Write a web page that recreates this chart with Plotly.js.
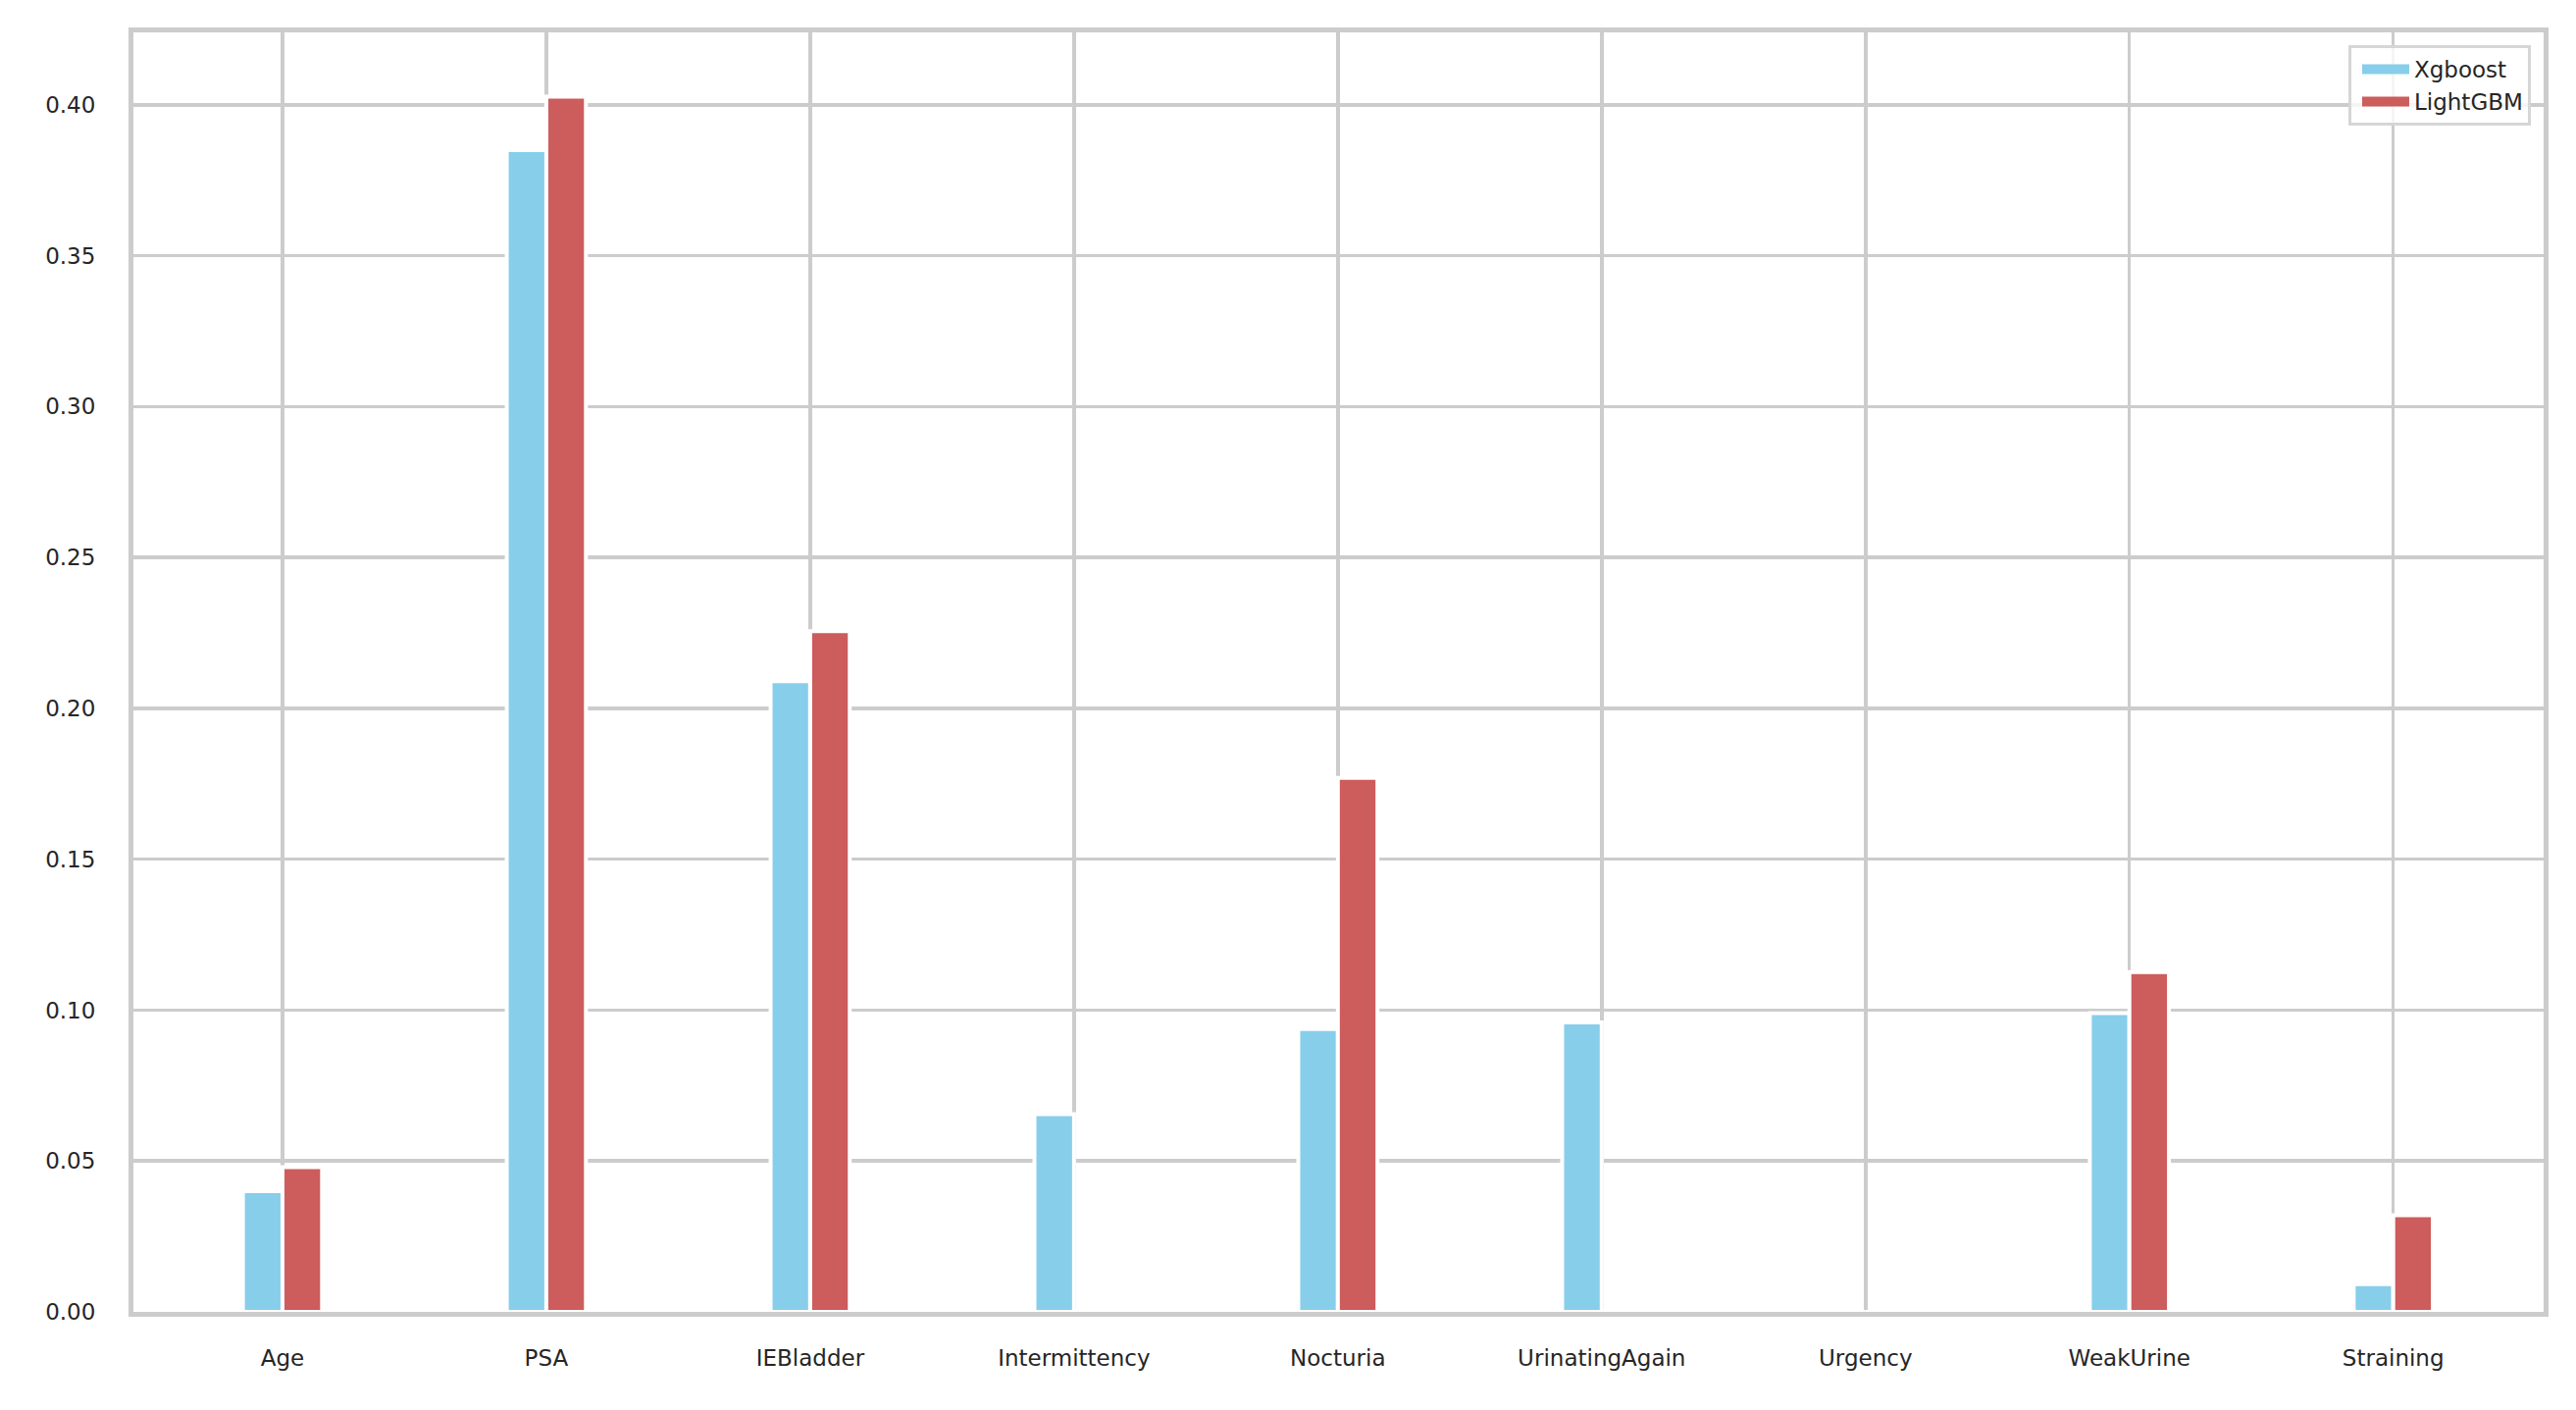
<!DOCTYPE html>
<html>
<head>
<meta charset="utf-8">
<script src="https://cdn.plot.ly/plotly-3.0.1.min.js"></script>
<style>html,body{margin:0;padding:0;background:#fff;}#chart{width:2626px;height:1437px;}</style>
</head>
<body>
<div id="chart"></div>
<script>
const features = ["Age", "PSA", "IEBladder", "Intermittency", "Nocturia", "UrinatingAgain", "Urgency", "WeakUrine", "Straining"];
const xgboost = [0.040, 0.385, 0.209, 0.0655, 0.0937, 0.0959, 0.0, 0.0990, 0.0092];
const lightgbm = [0.048, 0.4027, 0.2256, 0.0, 0.177, 0.0, 0.0, 0.1126, 0.032];
const yTicks = [0.00, 0.05, 0.10, 0.15, 0.20, 0.25, 0.30, 0.35, 0.40];
const yTickText = ["0.00", "0.05", "0.10", "0.15", "0.20", "0.25", "0.30", "0.35", "0.40"];
const seriesNames = ["Xgboost", "LightGBM"];
const seriesColors = ["#87CEEB", "#CD5C5C"];

const font = {family: "DejaVu Sans", size: 23, color: "#262626"};
const traces = [
  {type: "bar", name: seriesNames[0], x: features, y: xgboost, width: 0.15, offset: -0.15, showlegend: false,
   marker: {color: seriesColors[0], line: {color: "#ffffff", width: 4}}},
  {type: "bar", name: seriesNames[1], x: features, y: lightgbm, width: 0.15, offset: 0, showlegend: false,
   marker: {color: seriesColors[1], line: {color: "#ffffff", width: 4}}},
  {type: "scatter", mode: "lines", name: seriesNames[0], x: [null], y: [null],
   line: {color: seriesColors[0], width: 12}},
  {type: "scatter", mode: "lines", name: seriesNames[1], x: [null], y: [null],
   line: {color: seriesColors[1], width: 12}}
];
const layout = {
  width: 2626, height: 1437,
  margin: {l: 136, r: 33, t: 33, b: 100},
  paper_bgcolor: "#ffffff", plot_bgcolor: "#ffffff",
  font: font,
  showlegend: true,
  barmode: "overlay",
  xaxis: {
    type: "category", range: [-0.565, 8.57],
    showgrid: true, gridcolor: "#cccccc", gridwidth: 3.5,
    showline: true, linecolor: "#cccccc", linewidth: 5, mirror: true,
    ticks: "outside", ticklen: 22, tickcolor: "rgba(0,0,0,0)",
    tickfont: font, zeroline: false
  },
  yaxis: {
    range: [0, 0.424],
    tickvals: yTicks, ticktext: yTickText,
    showgrid: true, gridcolor: "#cccccc", gridwidth: 3.5,
    showline: true, linecolor: "#cccccc", linewidth: 5, mirror: true,
    ticks: "outside", ticklen: 29, tickcolor: "rgba(0,0,0,0)",
    tickfont: font, zeroline: false
  },
  legend: {
    x: 0.9947, y: 0.99, xanchor: "right", yanchor: "top",
    bgcolor: "rgba(255,255,255,0.8)", bordercolor: "#d6d6d6", borderwidth: 3,
    font: font, itemwidth: 48, indentation: 6
  }
};
Plotly.newPlot("chart", traces, layout, {displayModeBar: false, staticPlot: true});
</script>
</body>
</html>
